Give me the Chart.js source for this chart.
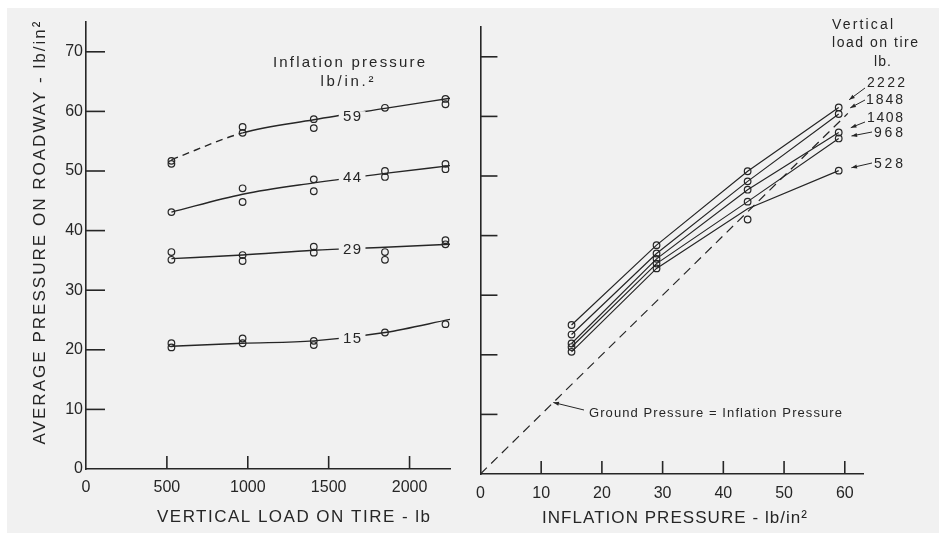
<!DOCTYPE html>
<html>
<head>
<meta charset="utf-8">
<script src="https://cdn.jsdelivr.net/npm/chart.js@4.4.0/dist/chart.umd.min.js"></script>
<style>
  html, body { margin: 0; padding: 0; width: 939px; height: 533px; overflow: hidden; background: #fff; }
  #paper { position: absolute; left: 7px; top: 8px; right: 0; bottom: 0; background: #f1f1f1; }
  canvas { position: absolute; top: 0; }
  #left { left: 0; }
  #right { left: 466px; }
</style>
</head>
<body>
<div id="paper"></div>
<canvas id="left" width="466" height="533"></canvas>
<canvas id="right" width="473" height="533"></canvas>
<script>
// Left panel: average pressure on roadway vs vertical load
const loadTicks = [0, 500, 1000, 1500, 2000];
const pressureTicks = [0, 10, 20, 30, 40, 50, 60, 70];
const fitLoads = [528, 968, 1408, 1848, 2250];
const fit59 = [51.9, 56.4, 58.6, 60.5, 62.2];
const fit44 = [43.1, 46.1, 48.0, 49.6, 50.9];
const fit29 = [35.3, 35.9, 36.7, 37.2, 37.7];
const fit15 = [20.6, 21.1, 21.5, 22.9, 25.1];
const obs59 = [[528, 51.7], [528, 51.2], [968, 57.4], [968, 56.4], [1408, 58.7], [1408, 57.2], [1848, 60.6], [2222, 62.1], [2222, 61.2]];
const obs44 = [[528, 43.1], [968, 47.1], [968, 44.8], [1408, 48.6], [1408, 46.6], [1848, 50.0], [1848, 49.0], [2222, 51.2], [2222, 50.3]];
const obs29 = [[528, 36.4], [528, 35.1], [968, 35.9], [968, 34.9], [1408, 37.3], [1408, 36.3], [1848, 36.4], [1848, 35.1], [2222, 38.4], [2222, 37.7]];
const obs15 = [[528, 21.1], [528, 20.4], [968, 21.9], [968, 21.1], [1408, 21.5], [1408, 20.8], [1848, 22.9], [2222, 24.3]];
const curveNames = ['59', '44', '29', '15'];
const curveLabelLoad = 1645;
const curveLabelY = [59.2, 49.0, 36.9, 22.0];

// Right panel: average pressure vs inflation pressure
const inflationTicks = [0, 10, 20, 30, 40, 50, 60];
const inflation = [15, 29, 44, 59];
const tireLoads = ['2222', '1848', '1408', '968', '528'];
const line2222 = [25.0, 38.4, 50.8, 61.5];
const line1848 = [23.4, 37.0, 49.1, 60.4];
const line1408 = [21.9, 36.1, 47.7, 57.3];
const line968 = [21.3, 35.3, 45.7, 56.3];
const line528 = [20.5, 34.5, 44.5, 50.9];
const obs528 = [[44, 42.7]];
const groundLine = [[0, 0], [60.5, 60.5]];

const INK = '#262626';
const PAPER = '#f1f1f1';
const FONT = "'Liberation Sans', 'DejaVu Sans', sans-serif";

function xy(xs, ys) { return xs.map((v, i) => ({ x: v, y: ys[i] })); }
function pts(list) { return list.map(p => ({ x: p[0], y: p[1] })); }

// text stretched to a given width, like the hand lettering
function spaced(ctx, text, x, y, width, align) {
    ctx.letterSpacing = '0px';
    const n = [...text].length;
    const w0 = ctx.measureText(text).width;
    const sp = n > 1 ? (width - w0) / (n - 1) : 0;
    ctx.letterSpacing = sp + 'px';
    let left = x;
    if (align === 'center') left = x - width / 2;
    if (align === 'right') left = x - width;
    ctx.textAlign = 'left';
    ctx.fillText(text, left, y);
    ctx.letterSpacing = '0px';
}

function arrow(ctx, x0, y0, x1, y1) {
    ctx.beginPath();
    ctx.moveTo(x0, y0);
    ctx.lineTo(x1, y1);
    ctx.stroke();
    const a = Math.atan2(y1 - y0, x1 - x0);
    ctx.beginPath();
    ctx.moveTo(x1, y1);
    ctx.lineTo(x1 - 6 * Math.cos(a - 0.35), y1 - 6 * Math.sin(a - 0.35));
    ctx.lineTo(x1 - 6 * Math.cos(a + 0.35), y1 - 6 * Math.sin(a + 0.35));
    ctx.closePath();
    ctx.fill();
}

// tick marks pointing into the plot
function innerTicks(xLen, yLen) {
    return {
        id: 'innerTicks',
        afterDraw(chart) {
            const { ctx, chartArea, scales: { x, y } } = chart;
            ctx.save();
            ctx.strokeStyle = INK;
            ctx.lineWidth = 1.6;
            x.ticks.forEach(t => {
                if (t.value === 0) return;
                const px = x.getPixelForValue(t.value);
                ctx.beginPath();
                ctx.moveTo(px, chartArea.bottom);
                ctx.lineTo(px, chartArea.bottom - xLen);
                ctx.stroke();
            });
            y.ticks.forEach(t => {
                if (t.value === 0) return;
                const py = y.getPixelForValue(t.value);
                ctx.beginPath();
                ctx.moveTo(chartArea.left, py);
                ctx.lineTo(chartArea.left + yLen, py);
                ctx.stroke();
            });
            ctx.restore();
        }
    };
}

const pointStyle = {
    showLine: false,
    pointRadius: 3.3,
    pointBorderWidth: 1.2,
    pointBorderColor: INK,
    pointBackgroundColor: 'rgba(0,0,0,0)'
};
const fitStyle = {
    showLine: true,
    pointRadius: 0,
    borderColor: INK,
    borderWidth: 1.4,
    cubicInterpolationMode: 'monotone'
};

function axis(min, max, tickList, fitSize, showLabels, pad) {
    return {
        type: 'linear',
        min: min,
        max: max,
        grid: { display: false, drawTicks: false },
        border: { display: true, color: INK, width: 1.6 },
        afterBuildTicks: s => { s.ticks = tickList.map(v => ({ value: v })); },
        afterFit: fitSize,
        ticks: {
            display: showLabels,
            autoSkip: false,
            maxRotation: 0,
            padding: pad,
            color: INK,
            font: { family: FONT, size: 16 },
            callback: v => String(v)
        }
    };
}

// ---- left chart
const leftNotes = {
    id: 'leftNotes',
    afterDatasetsDraw(chart) {
        const { ctx, scales: { x, y } } = chart;
        ctx.save();
        ctx.font = `15px ${FONT}`;
        ctx.textBaseline = 'middle';
        curveNames.forEach((name, i) => {
            const px = x.getPixelForValue(curveLabelLoad);
            const py = y.getPixelForValue(curveLabelY[i]);
            const w = ctx.measureText(name).width;
            ctx.fillStyle = PAPER;
            ctx.fillRect(px - w / 2 - 5, py - 5, w + 10, 10);
            ctx.fillStyle = INK;
            spaced(ctx, name, px, py + 1, 18, 'center');
        });
        ctx.restore();
    },
    afterDraw(chart) {
        const ctx = chart.ctx;
        ctx.save();
        ctx.fillStyle = INK;
        ctx.textBaseline = 'middle';
        ctx.font = `15px ${FONT}`;
        spaced(ctx, 'Inflation pressure', 349, 63, 152, 'center');
        spaced(ctx, 'lb/in.²', 347, 82, 53, 'center');
        ctx.font = `17px ${FONT}`;
        spaced(ctx, 'VERTICAL LOAD ON TIRE - lb', 293.5, 517, 273, 'center');
        ctx.translate(40, 233);
        ctx.rotate(-Math.PI / 2);
        spaced(ctx, 'AVERAGE PRESSURE ON ROADWAY - lb/in²', 0, 0, 423, 'center');
        ctx.restore();
    }
};

new Chart(document.getElementById('left'), {
    type: 'scatter',
    data: {
        datasets: [
            { ...fitStyle, data: xy(fitLoads, fit59), segment: { borderDash: c => c.p0DataIndex === 0 ? [7, 5] : undefined } },
            { ...fitStyle, data: xy(fitLoads, fit44) },
            { ...fitStyle, data: xy(fitLoads, fit29) },
            { ...fitStyle, data: xy(fitLoads, fit15) },
            { ...pointStyle, data: pts(obs59) },
            { ...pointStyle, data: pts(obs44) },
            { ...pointStyle, data: pts(obs29) },
            { ...pointStyle, data: pts(obs15) }
        ]
    },
    options: {
        responsive: false,
        animation: false,
        events: [],
        layout: { padding: { top: 22, right: 16, bottom: 0, left: 0 } },
        plugins: { legend: { display: false }, tooltip: { enabled: false } },
        scales: {
            x: axis(0, 2250, loadTicks, s => { s.height = 64; }, true, 9),
            y: axis(0, 75, pressureTicks, s => { s.width = 86; }, true, 3)
        }
    },
    plugins: [innerTicks(13, 19), leftNotes]
});

// ---- right chart
const OFF = 466;
const loadLines = [line2222, line1848, line1408, line968, line528];
const leaderStart = [[865, 88], [865, 100], [865, 122], [872, 132], [872, 163]];
const labelPos = [[867, 83, 38], [866, 100, 37], [867, 118, 36], [874, 133, 29], [874, 164, 29]];

const rightNotes = {
    id: 'rightNotes',
    afterDraw(chart) {
        const { ctx, scales: { x, y } } = chart;
        ctx.save();
        ctx.fillStyle = INK;
        ctx.strokeStyle = INK;
        ctx.lineWidth = 1;
        ctx.textBaseline = 'middle';
        ctx.font = `14px ${FONT}`;
        spaced(ctx, 'Vertical', 832 - OFF, 25, 61, 'left');
        spaced(ctx, 'load on tire', 832 - OFF, 43, 86, 'left');
        spaced(ctx, 'lb.', 874 - OFF, 62, 17, 'left');
        tireLoads.forEach((name, i) => {
            const [lx, ly, lw] = labelPos[i];
            spaced(ctx, name, lx - OFF, ly, lw, 'left');
            const sx = leaderStart[i][0] - OFF, sy = leaderStart[i][1];
            const px = x.getPixelForValue(inflation[3]);
            const py = y.getPixelForValue(loadLines[i][3]);
            const d = Math.hypot(sx - px, sy - py);
            arrow(ctx, sx, sy, px + (sx - px) * 13 / d, py + (sy - py) * 13 / d);
        });
        ctx.font = `13px ${FONT}`;
        spaced(ctx, 'Ground Pressure = Inflation Pressure', 589 - OFF, 413, 253, 'left');
        arrow(ctx, 584 - OFF, 410, x.getPixelForValue(12), y.getPixelForValue(12));
        ctx.font = `17px ${FONT}`;
        spaced(ctx, 'INFLATION PRESSURE - lb/in²', 674.5 - OFF, 518, 265, 'center');
        ctx.restore();
    }
};

const lineStyle = {
    showLine: true,
    borderColor: INK,
    borderWidth: 1.2,
    tension: 0,
    pointRadius: 3.3,
    pointBorderWidth: 1.2,
    pointBorderColor: INK,
    pointBackgroundColor: 'rgba(0,0,0,0)'
};

new Chart(document.getElementById('right'), {
    type: 'scatter',
    data: {
        datasets: [
            { showLine: true, pointRadius: 0, borderColor: INK, borderWidth: 1.2, borderDash: [9, 6], data: pts(groundLine) },
            { ...lineStyle, data: xy(inflation, line2222) },
            { ...lineStyle, data: xy(inflation, line1848) },
            { ...lineStyle, data: xy(inflation, line1408) },
            { ...lineStyle, data: xy(inflation, line968) },
            { ...lineStyle, data: xy(inflation, line528), pointRadius: [3.3, 3.3, 0, 3.3] },
            { ...pointStyle, data: pts(obs528) }
        ]
    },
    options: {
        responsive: false,
        animation: false,
        events: [],
        layout: { padding: { top: 27, right: 76, bottom: 0, left: 0 } },
        plugins: { legend: { display: false }, tooltip: { enabled: false } },
        scales: {
            x: axis(0, 63, inflationTicks, s => { s.height = 59; }, true, 10),
            y: axis(0, 75, pressureTicks, s => { s.width = 9; }, false, 0)
        }
    },
    plugins: [innerTicks(13, 17), rightNotes]
});
</script>
</body>
</html>
